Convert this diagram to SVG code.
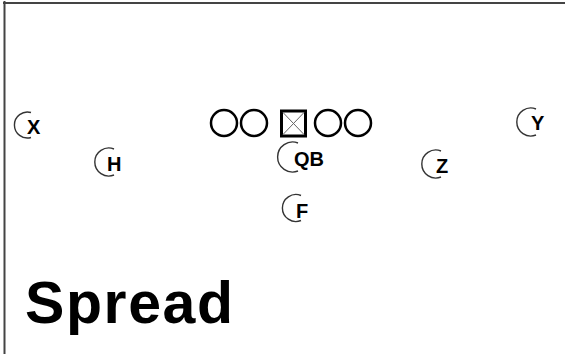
<svg xmlns="http://www.w3.org/2000/svg" width="565" height="354" viewBox="0 0 565 354">
<style>
.frame{stroke:#444;stroke-width:2;fill:none}
.lineman{fill:none;stroke:#000;stroke-width:2.5}
.center{fill:#fff;stroke:#000;stroke-width:3}
.cx{stroke:#666;stroke-width:1}
.arc{fill:none;stroke:#333;stroke-width:1.4}
.lbl{font-family:"Liberation Sans",Arial,sans-serif;font-weight:bold;font-size:20px;fill:#000}
.title{font-family:"Liberation Sans",Arial,sans-serif;font-weight:bold;font-size:59px;fill:#000}
</style>
<rect width="565" height="354" fill="#fff"/>
<g id="frame">
<line class="frame" x1="3" y1="3" x2="565" y2="3"/>
<line class="frame" x1="4.5" y1="1" x2="4.5" y2="354"/>
</g>
<g id="connectors"></g>
<g id="line">
<circle class="lineman" cx="224" cy="123" r="13"/>
<circle class="lineman" cx="254" cy="123" r="13"/>
<circle class="lineman" cx="328" cy="123" r="13"/>
<circle class="lineman" cx="358" cy="123" r="13"/>
</g>
<g id="C">
<rect class="center" x="281.5" y="111" width="24" height="25"/>
<line class="cx" x1="283" y1="112.5" x2="304" y2="134.5"/>
<line class="cx" x1="304" y1="112.5" x2="283" y2="134.5"/>
</g>
<g id="X">
<path class="arc" d="M31 112.5 A13 13 0 1 0 31 137.5"/>
<text class="lbl" x="27" y="134">X</text>
</g>
<g id="H">
<path class="arc" d="M114 149 A14 14 0 1 0 114 175"/>
<text class="lbl" x="107" y="171">H</text>
</g>
<g id="QB">
<path class="arc" d="M298 143 A15 15 0 1 0 298 171"/>
<text class="lbl" x="294" y="166">QB</text>
</g>
<g id="F">
<path class="arc" d="M301 195.5 A13.5 13.5 0 1 0 301 220.5"/>
<text class="lbl" x="296" y="218">F</text>
</g>
<g id="Z">
<path class="arc" d="M441 151 A14 14 0 1 0 441 177"/>
<text class="lbl" x="436" y="173">Z</text>
</g>
<g id="Y">
<path class="arc" d="M536 109 A14 14 0 1 0 536 135"/>
<text class="lbl" x="531" y="130">Y</text>
</g>
<g id="title">
<text class="title" x="25" y="323" textLength="208" lengthAdjust="spacing">Spread</text>
</g>
</svg>
